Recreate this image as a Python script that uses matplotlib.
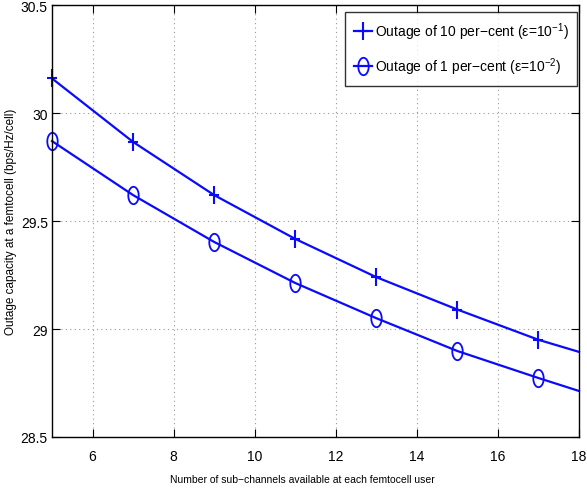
import numpy as np
import matplotlib
matplotlib.use('Agg')
import matplotlib.pyplot as plt
from matplotlib.path import Path

# capacity vs number of sub-channels, markers on odd channel counts
channels = [5, 7, 9, 11, 13, 15, 17, 18]
cap_eps1 = [30.16, 29.866, 29.62, 29.417, 29.24, 29.09, 28.95, 28.894]
cap_eps2 = [29.87, 29.62, 29.403, 29.213, 29.05, 28.898, 28.773, 28.713]

xticks = [6, 8, 10, 12, 14, 16, 18]
yticks = [28.5, 29, 29.5, 30, 30.5]
ytick_labels = ['28.5', '29', '29.5', '30', '30.5']

plt.rcParams['font.family'] = ['Liberation Sans', 'DejaVu Sans']
plt.rcParams['mathtext.fontset'] = 'custom'
plt.rcParams['mathtext.rm'] = 'Liberation Sans'
plt.rcParams['mathtext.it'] = 'Liberation Sans'
plt.rcParams['mathtext.default'] = 'regular'

# tall thin markers (plus and ellipse)
t = np.linspace(0, 2 * np.pi, 60)
ellipse = Path(np.column_stack([0.3 * np.cos(t), 0.5 * np.sin(t)]), closed=True)
plus = Path([(0, -0.5), (0, 0.5), (-0.3, 0), (0.3, 0)],
            [Path.MOVETO, Path.LINETO, Path.MOVETO, Path.LINETO])

fig = plt.figure(figsize=(5.87, 4.89), dpi=100)
ax = fig.add_axes([0.0886, 0.1043, 0.8978, 0.8834])

blue = '#0a0aff'
ax.plot(channels, cap_eps1, color=blue, lw=1.6, marker=plus, ms=12.5, mew=1.5,
        markevery=list(range(7)), clip_on=False,
        label=u'Outage of 10 per\u2212cent (\u03b5=10$^{-1}$)')
ax.plot(channels, cap_eps2, color=blue, lw=1.6, marker=ellipse, ms=12.5, mew=1.3,
        mfc='none', markevery=list(range(7)), clip_on=False,
        label=u'Outage of 1 per\u2212cent (\u03b5=10$^{-2}$)')

ax.set_xlim(5, 18)
ax.set_ylim(28.5, 30.5)
ax.set_xticks(xticks)
ax.set_yticks(yticks)
ax.set_yticklabels(ytick_labels)
ax.tick_params(direction='in', length=6, width=0.8, top=True, right=True,
               labelsize=10, pad=3)
ax.tick_params(axis='x', pad=9)
ax.grid(True, linestyle=(0, (1, 3)), color='#999999', lw=0.8)
for s in ax.spines.values():
    s.set_linewidth(1.0)

ax.set_xlabel('Number of sub\u2212channels available at each femtocell user',
              fontsize=7.5)
ax.xaxis.set_label_coords(0.475, -0.086)
ax.set_ylabel('Outage capacity at a femtocell (bps/Hz/cell)', fontsize=8.5)
ax.yaxis.set_label_coords(-0.066, 0.5)

leg = ax.legend(loc='upper right', bbox_to_anchor=(0.9962, 0.984),
                fontsize=10, frameon=True, fancybox=False,
                handlelength=1.3, handletextpad=0.2, borderpad=0.6,
                labelspacing=1.0, borderaxespad=0)
leg.get_frame().set_edgecolor('black')
leg.get_frame().set_linewidth(1.0)

fig.savefig('out.png', dpi=100)
